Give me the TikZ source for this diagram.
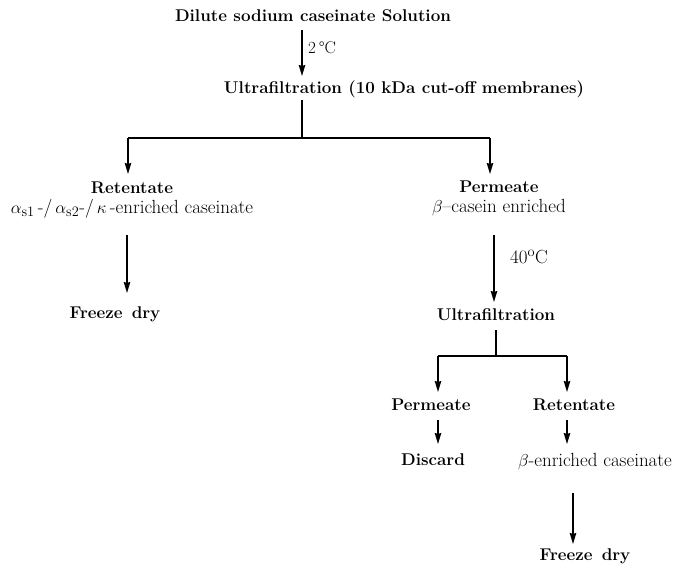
\documentclass[tikz,border=0pt]{standalone}
\usetikzlibrary{arrows.meta}
\begin{document}
\begin{tikzpicture}[x=1pt,y=-1pt,
  every node/.style={inner sep=0pt,anchor=base,font=\fontsize{17}{19}\selectfont},
  stage/.style={font=\fontsize{17}{19}\selectfont\bfseries},
  note/.style={font=\fontsize{19}{21}\selectfont},
  flow/.style={line width=1.3pt,-{Stealth[length=11pt,width=6.5pt,inset=1pt]}},
  branch/.style={line width=1.3pt}]
\useasboundingbox (0,0) rectangle (675,565);

% first stage
\node[stage] (sol) at (313,21) {Dilute sodium caseinate Solution};
\node[stage] (uf1) at (404,93) {Ultrafiltration (10 kDa cut-off membranes)};
\coordinate (a1s) at (302,30);
\coordinate (a1e) at (302,76);
\draw[flow] (a1s) -- (a1e);
\node[note,anchor=base west,font=\fontsize{17}{19}\selectfont] (t2) at (308,53) {2\,°C};

% split after first ultrafiltration
\coordinate (s1) at (302,100);
\coordinate (j1) at (302,138);
\coordinate (jl) at (128,138);
\coordinate (jr) at (490,138);
\coordinate (jle) at (128,174);
\coordinate (jre) at (490,174);
\draw[branch] (s1) -- (j1);
\draw[branch] (jl) -- (jr);
\draw[flow] (jl) -- (jle);
\draw[flow] (jr) -- (jre);

% retentate branch
\node[stage] (ret1) at (132,193) {Retentate};
\node[note] (ret1b) at (132,213) {$\alpha_{\mathrm{s1}}$\,-/\,$\alpha_{\mathrm{s2}}$-/\,$\kappa$\,-enriched caseinate};
\coordinate (a3s) at (127,235);
\coordinate (a3e) at (127,293);
\draw[flow] (a3s) -- (a3e);
\node[stage] (fd1) at (115,318) {Freeze\ \,dry};

% permeate branch
\node[stage] (per1) at (499,192) {Permeate};
\node[note] (per1b) at (499,212) {$\beta$--casein enriched};
\coordinate (a4s) at (494,235);
\coordinate (a4e) at (494,302);
\draw[flow] (a4s) -- (a4e);
\node[note,anchor=base west] (t40) at (510,263) {40$^{\mathrm{o}}$C};
\node[stage] (uf2) at (496,320) {Ultrafiltration};

% split after second ultrafiltration
\coordinate (s2) at (496,330);
\coordinate (j2) at (496,356);
\coordinate (kl) at (438,356);
\coordinate (kr) at (567,356);
\coordinate (kle) at (438,392);
\coordinate (kre) at (567,392);
\draw[branch] (s2) -- (j2);
\draw[branch] (kl) -- (kr);
\draw[flow] (kl) -- (kle);
\draw[flow] (kr) -- (kre);

\node[stage] (per2) at (431,410) {Permeate};
\node[stage] (ret2) at (574,410) {Retentate};
\coordinate (a5s) at (438,420);
\coordinate (a5e) at (438,444);
\draw[flow] (a5s) -- (a5e);
\coordinate (a6s) at (567,420);
\coordinate (a6e) at (567,444);
\draw[flow] (a6s) -- (a6e);
\node[stage] (dis) at (433,465) {Discard};
\node[note] (ben) at (595,466) {$\beta$-enriched caseinate};
\coordinate (a7s) at (573,493);
\coordinate (a7e) at (573,544);
\draw[flow] (a7s) -- (a7e);
\node[stage] (fd2) at (585,560) {Freeze\ \,dry};
\end{tikzpicture}
\end{document}
